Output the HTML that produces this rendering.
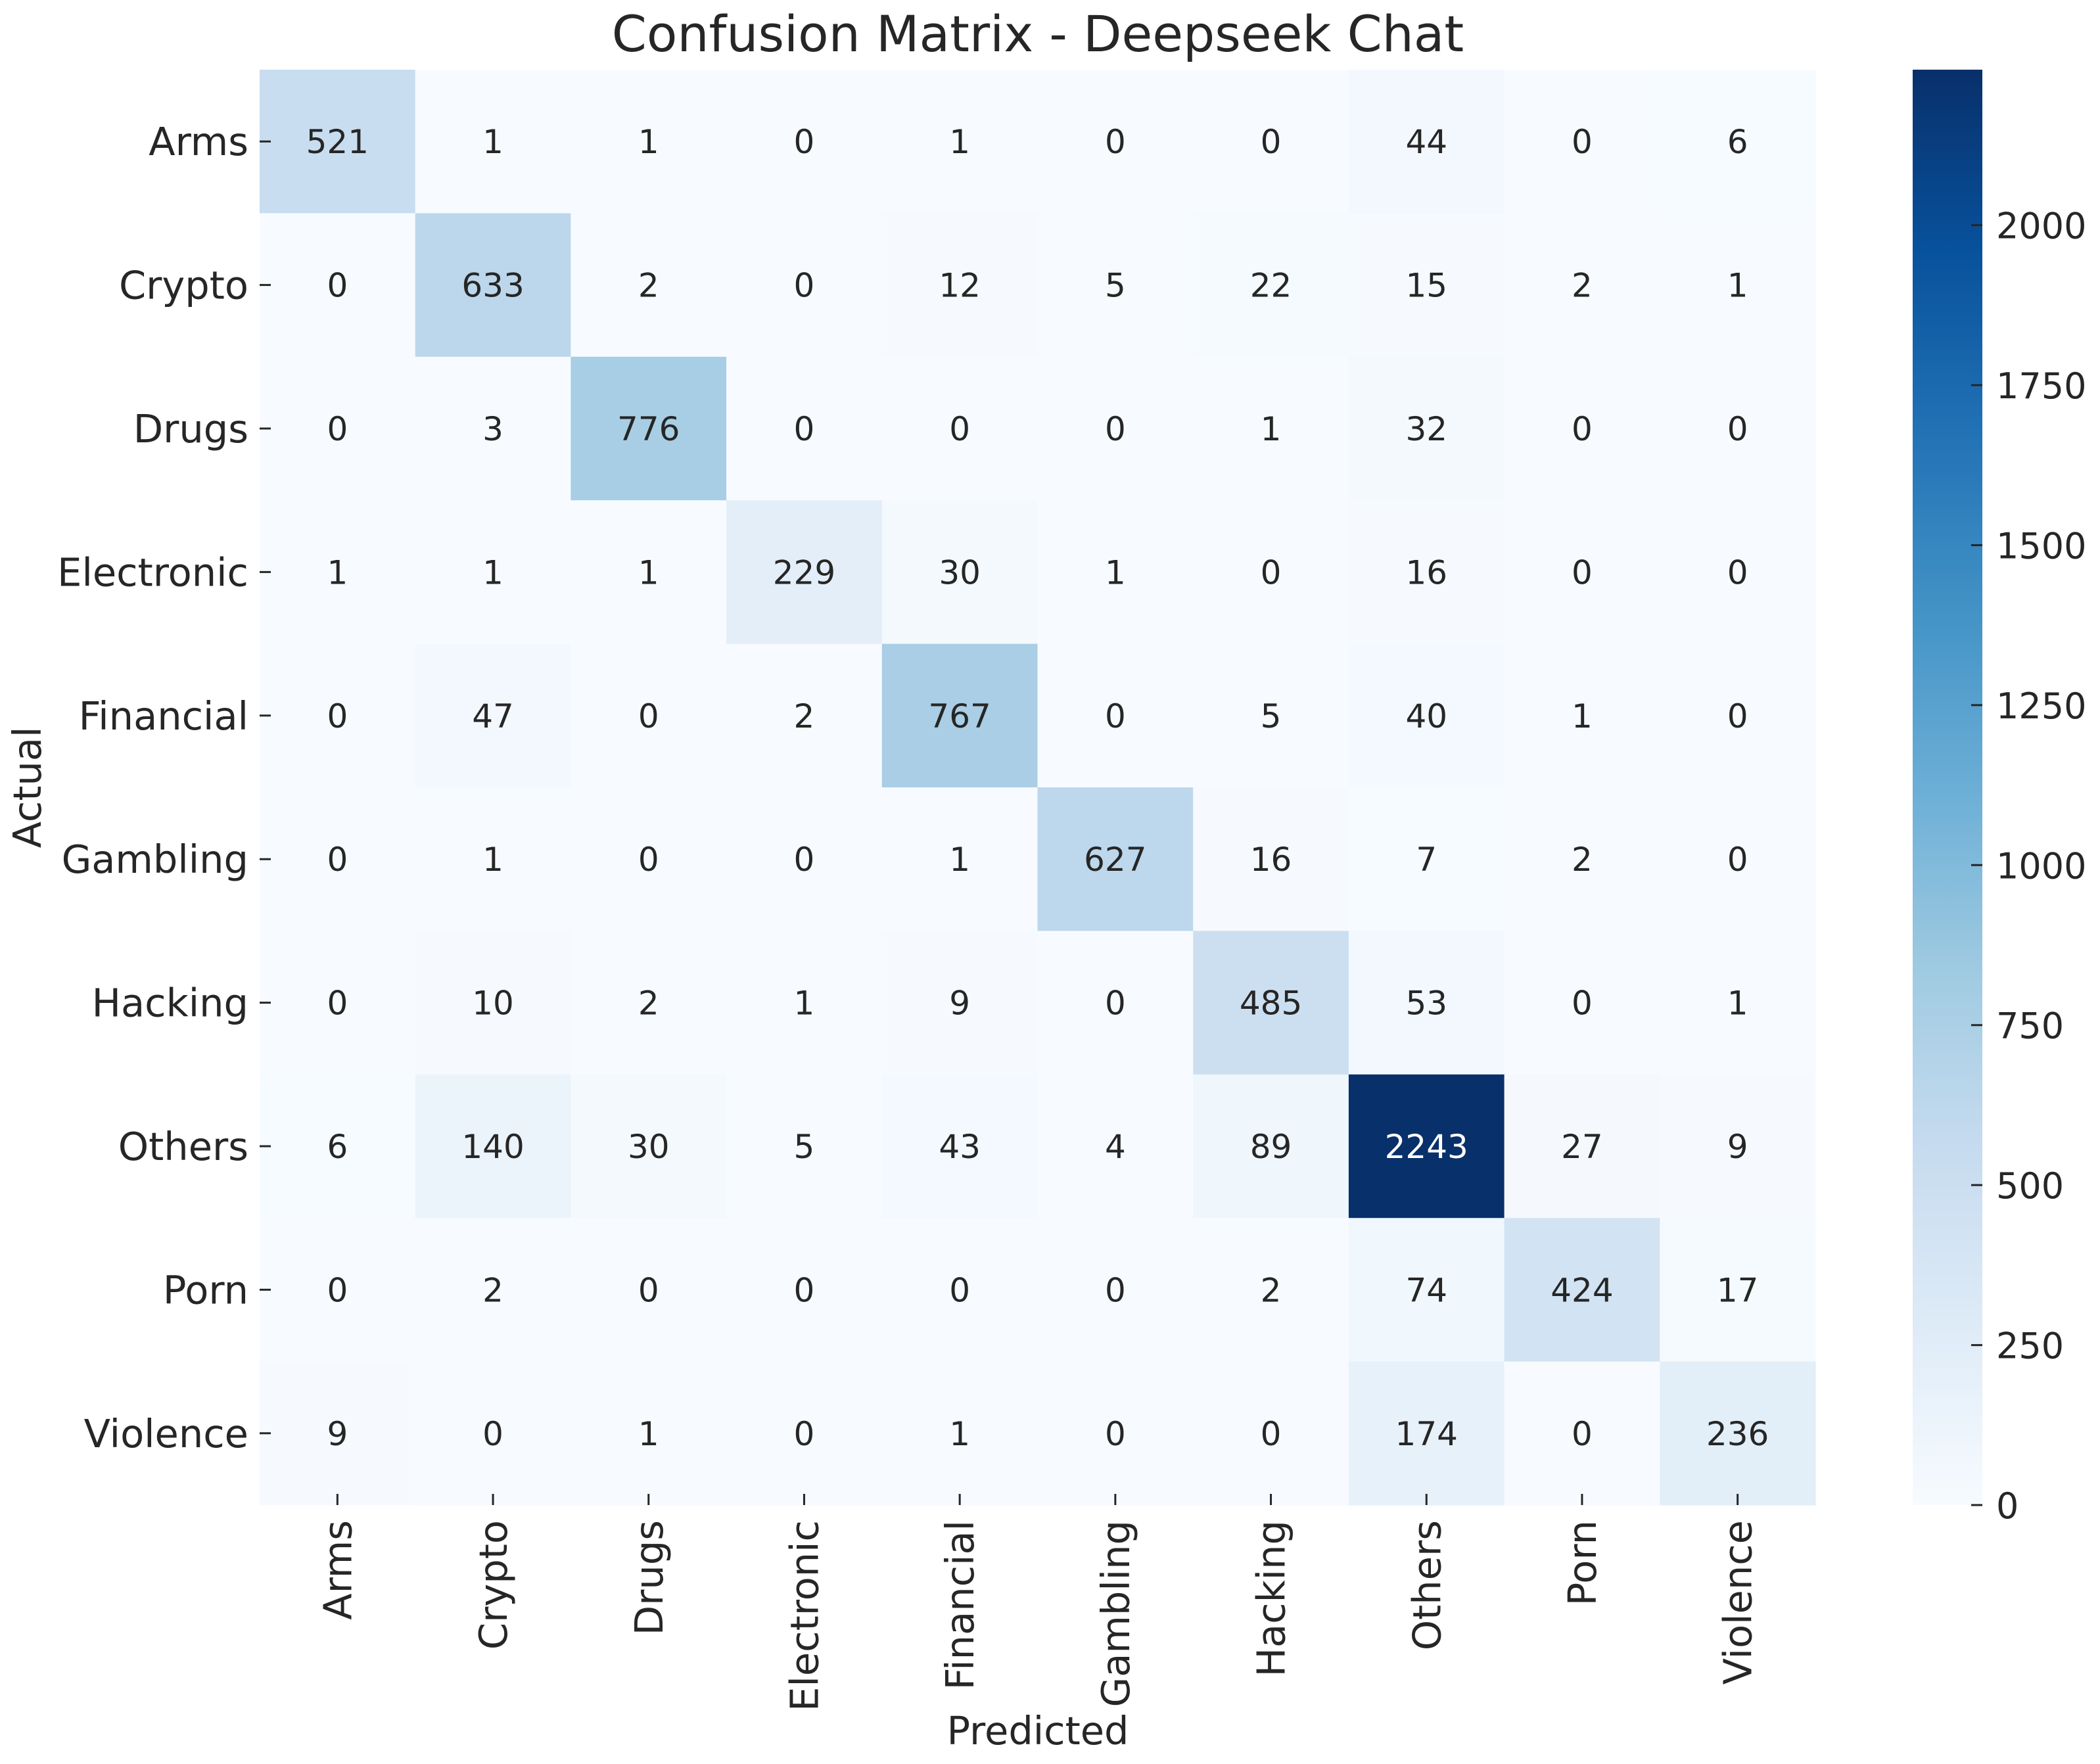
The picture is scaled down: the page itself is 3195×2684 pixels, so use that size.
<!DOCTYPE html>
<html><head><meta charset="utf-8"><style>
html,body{margin:0;padding:0;background:#fff;}
svg{display:block;font-family:"DejaVu Sans","Liberation Sans",sans-serif;}
</style></head><body>
<svg id="chart" width="3195" height="2684" viewBox="0 0 3195 2684">
<text x="1579" y="78" text-anchor="middle" font-size="76" fill="#262626">Confusion Matrix - Deepseek Chat</text>
<g id="cells"></g>
<g id="axes"></g>
<text x="1579" y="2654" text-anchor="middle" font-size="59" fill="#262626">Predicted</text>
<text transform="translate(62,1198) rotate(-90)" text-anchor="middle" font-size="59" fill="#262626">Actual</text>
<defs><linearGradient id="cbgrad" x1="0" y1="1" x2="0" y2="0">
<stop offset="0" stop-color="rgb(247,251,255)"/><stop offset="0.125" stop-color="rgb(222,235,247)"/>
<stop offset="0.25" stop-color="rgb(198,219,239)"/><stop offset="0.375" stop-color="rgb(158,202,225)"/>
<stop offset="0.5" stop-color="rgb(107,174,214)"/><stop offset="0.625" stop-color="rgb(66,146,198)"/>
<stop offset="0.75" stop-color="rgb(33,113,181)"/><stop offset="0.875" stop-color="rgb(8,81,156)"/>
<stop offset="1" stop-color="rgb(8,48,107)"/></linearGradient></defs>
<rect x="2910" y="106" width="106" height="2184" fill="url(#cbgrad)"/>
<g id="cbar"></g>
</svg>
<script>
const categories = ["Arms","Crypto","Drugs","Electronic","Financial","Gambling","Hacking","Others","Porn","Violence"];
const rowArms       = [521,1,1,0,1,0,0,44,0,6];
const rowCrypto     = [0,633,2,0,12,5,22,15,2,1];
const rowDrugs      = [0,3,776,0,0,0,1,32,0,0];
const rowElectronic = [1,1,1,229,30,1,0,16,0,0];
const rowFinancial  = [0,47,0,2,767,0,5,40,1,0];
const rowGambling   = [0,1,0,0,1,627,16,7,2,0];
const rowHacking    = [0,10,2,1,9,0,485,53,0,1];
const rowOthers     = [6,140,30,5,43,4,89,2243,27,9];
const rowPorn       = [0,2,0,0,0,0,2,74,424,17];
const rowViolence   = [9,0,1,0,1,0,0,174,0,236];
const matrix = [rowArms,rowCrypto,rowDrugs,rowElectronic,rowFinancial,rowGambling,rowHacking,rowOthers,rowPorn,rowViolence];
const colorbarTicks = [0,250,500,750,1000,1250,1500,1750,2000];

const NS="http://www.w3.org/2000/svg";
const X0=395,X1=2762,Y0=106,Y1=2290;
const n=categories.length;
const cw=(X1-X0)/n, ch=(Y1-Y0)/n;
const vmin=0, vmax=Math.max(...matrix.flat());
const stops=[[247,251,255],[222,235,247],[198,219,239],[158,202,225],[107,174,214],[66,146,198],[33,113,181],[8,81,156],[8,48,107]];
function blues(v){let t=Math.max(0,Math.min(1,(v-vmin)/(vmax-vmin)))*(stops.length-1);let i=Math.min(Math.floor(t),stops.length-2),f=t-i;
 return stops[i].map((c,k)=>Math.round(c+(stops[i+1][k]-c)*f));}
function xScale(i){return X0+cw*(i+0.5);}
function yScale(i){return Y0+ch*(i+0.5);}
function cbScale(v){return Y1-(v-vmin)/(vmax-vmin)*(Y1-Y0);}
function mk(tag,attrs,parent){const e=document.createElementNS(NS,tag);for(const k in attrs)e.setAttribute(k,attrs[k]);parent.appendChild(e);return e;}

const cells=document.getElementById('cells');
matrix.forEach((row,r)=>row.forEach((v,c)=>{
  const col=blues(v);
  const rect=mk('rect',{x:X0+cw*c,y:Y0+ch*r,width:cw+0.5,height:ch+0.5,fill:`rgb(${col})`},cells);
  
  
  const lum=(0.299*col[0]+0.587*col[1]+0.114*col[2])/255;
  const t=mk('text',{x:xScale(c),y:yScale(r)+18,'text-anchor':'middle','font-size':50,fill:lum<0.45?'#ffffff':'#262626'},cells);
  t.textContent=v;
  
  
}));

const axes=document.getElementById('axes');
categories.forEach((cat,i)=>{
  const tk=mk('line',{x1:xScale(i),x2:xScale(i),y1:Y1-17,y2:Y1,stroke:'#262626','stroke-width':3},axes);
  
  
  const xl=mk('text',{transform:`translate(${xScale(i)+21},2313) rotate(-90)`,'text-anchor':'end','font-size':59,fill:'#262626'},axes);
  xl.textContent=cat;
  
  
  const ty=mk('line',{x1:X0,x2:X0+17,y1:yScale(i),y2:yScale(i),stroke:'#262626','stroke-width':3},axes);
  
  
  const yl=mk('text',{x:378,y:yScale(i)+21,'text-anchor':'end','font-size':59,fill:'#262626'},axes);
  yl.textContent=cat;
  
  
});

const cbar=document.getElementById('cbar');
colorbarTicks.forEach(v=>{
  const y=cbScale(v);
  const l=mk('line',{x1:2999,x2:3016,y1:y,y2:y,stroke:'#262626','stroke-width':3},cbar);
  
  
  const t=mk('text',{x:3037,y:y+20,'font-size':54,fill:'#262626'},cbar);
  t.textContent=v;
  
  
});
</script>
</body></html>
